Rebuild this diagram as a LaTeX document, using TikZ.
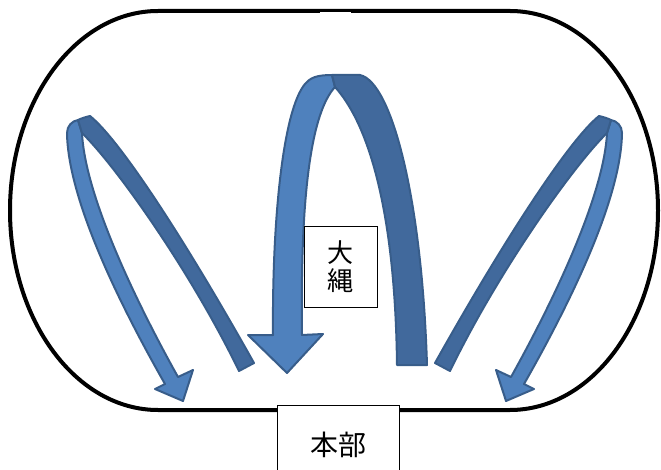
\documentclass[tikz,border=0pt]{standalone}
\usepackage{fontspec}
\usepackage{tikz}
\newfontfamily\jpfont{Noto Sans CJK JP}
\definecolor{ribbonlight}{RGB}{79,129,189}
\definecolor{ribbondark}{RGB}{65,105,156}
\definecolor{ribbonedge}{RGB}{56,93,138}

% one side loop (left), mirrored for the right one
\newcommand{\sideloop}{%
  % light band with head
  \filldraw[lightband] (165,384) .. controls (120,305) and (68,200) .. (67,133)
    .. controls (67,126) and (72,121) .. (78,120) -- (82,133)
    .. controls (85,195) and (135,300) .. (178,377)
    -- (193,370) -- (183,401) -- (155,389) -- cycle;
  % dark band
  \filldraw[darkband] (239,371) -- (254,363)
    .. controls (185,240) and (120,140) .. (90,116)
    .. controls (86,117) and (82,118) .. (78,120) -- (82,133)
    .. controls (115,165) and (190,270) .. (239,371) -- cycle;
}

\begin{document}
\begin{tikzpicture}[x=1pt,y=-1pt,
    track/.style={line width=4pt},
    box/.style={draw, line width=0.8pt, fill=white, inner sep=0pt},
    lightband/.style={fill=ribbonlight, draw=ribbonedge, line width=2pt, line join=round},
    darkband/.style={fill=ribbondark, draw=ribbonedge, line width=2pt, line join=round}]
    \useasboundingbox (0,0) rectangle (661,470);

    % Track
    \draw[track] (158,11) -- (510,11)
        arc[start angle=-90, end angle=90, x radius=148, y radius=199.5] -- (158,410)
        arc[start angle=90, end angle=270, x radius=148, y radius=199.5] -- cycle;
    \fill[white] (320,11.7) rectangle (351,14);

    % Left and right loops
    \sideloop
    \begin{scope}[xshift=689pt, xscale=-1]
        \sideloop
    \end{scope}

    % Middle loop
    \filldraw[lightband] (273,335) .. controls (272,220) and (283,110) .. (305,84)
        .. controls (310,78) and (316,75) .. (332,75)
        -- (335,87) .. controls (312,112) and (300,190) .. (302,335)
        -- (323,334) -- (287,373) -- (248,335) -- cycle;
    \filldraw[darkband] (397,365) -- (427,365)
        .. controls (422,200) and (392,82) .. (360,75) -- (332,75) -- (335,87)
        .. controls (365,120) and (395,200) .. (397,365) -- cycle;

    % Labels
    \node[box, minimum width=73pt, minimum height=81pt, align=center,
        font=\jpfont\fontsize{26}{28}\selectfont] (rope) at (340.5,266.5) {大\\縄};
    \node[box, minimum width=122pt, minimum height=80pt,
        font=\jpfont\fontsize{28}{30}\selectfont] (hq) at (338,445) {本部};
\end{tikzpicture}
\end{document}
